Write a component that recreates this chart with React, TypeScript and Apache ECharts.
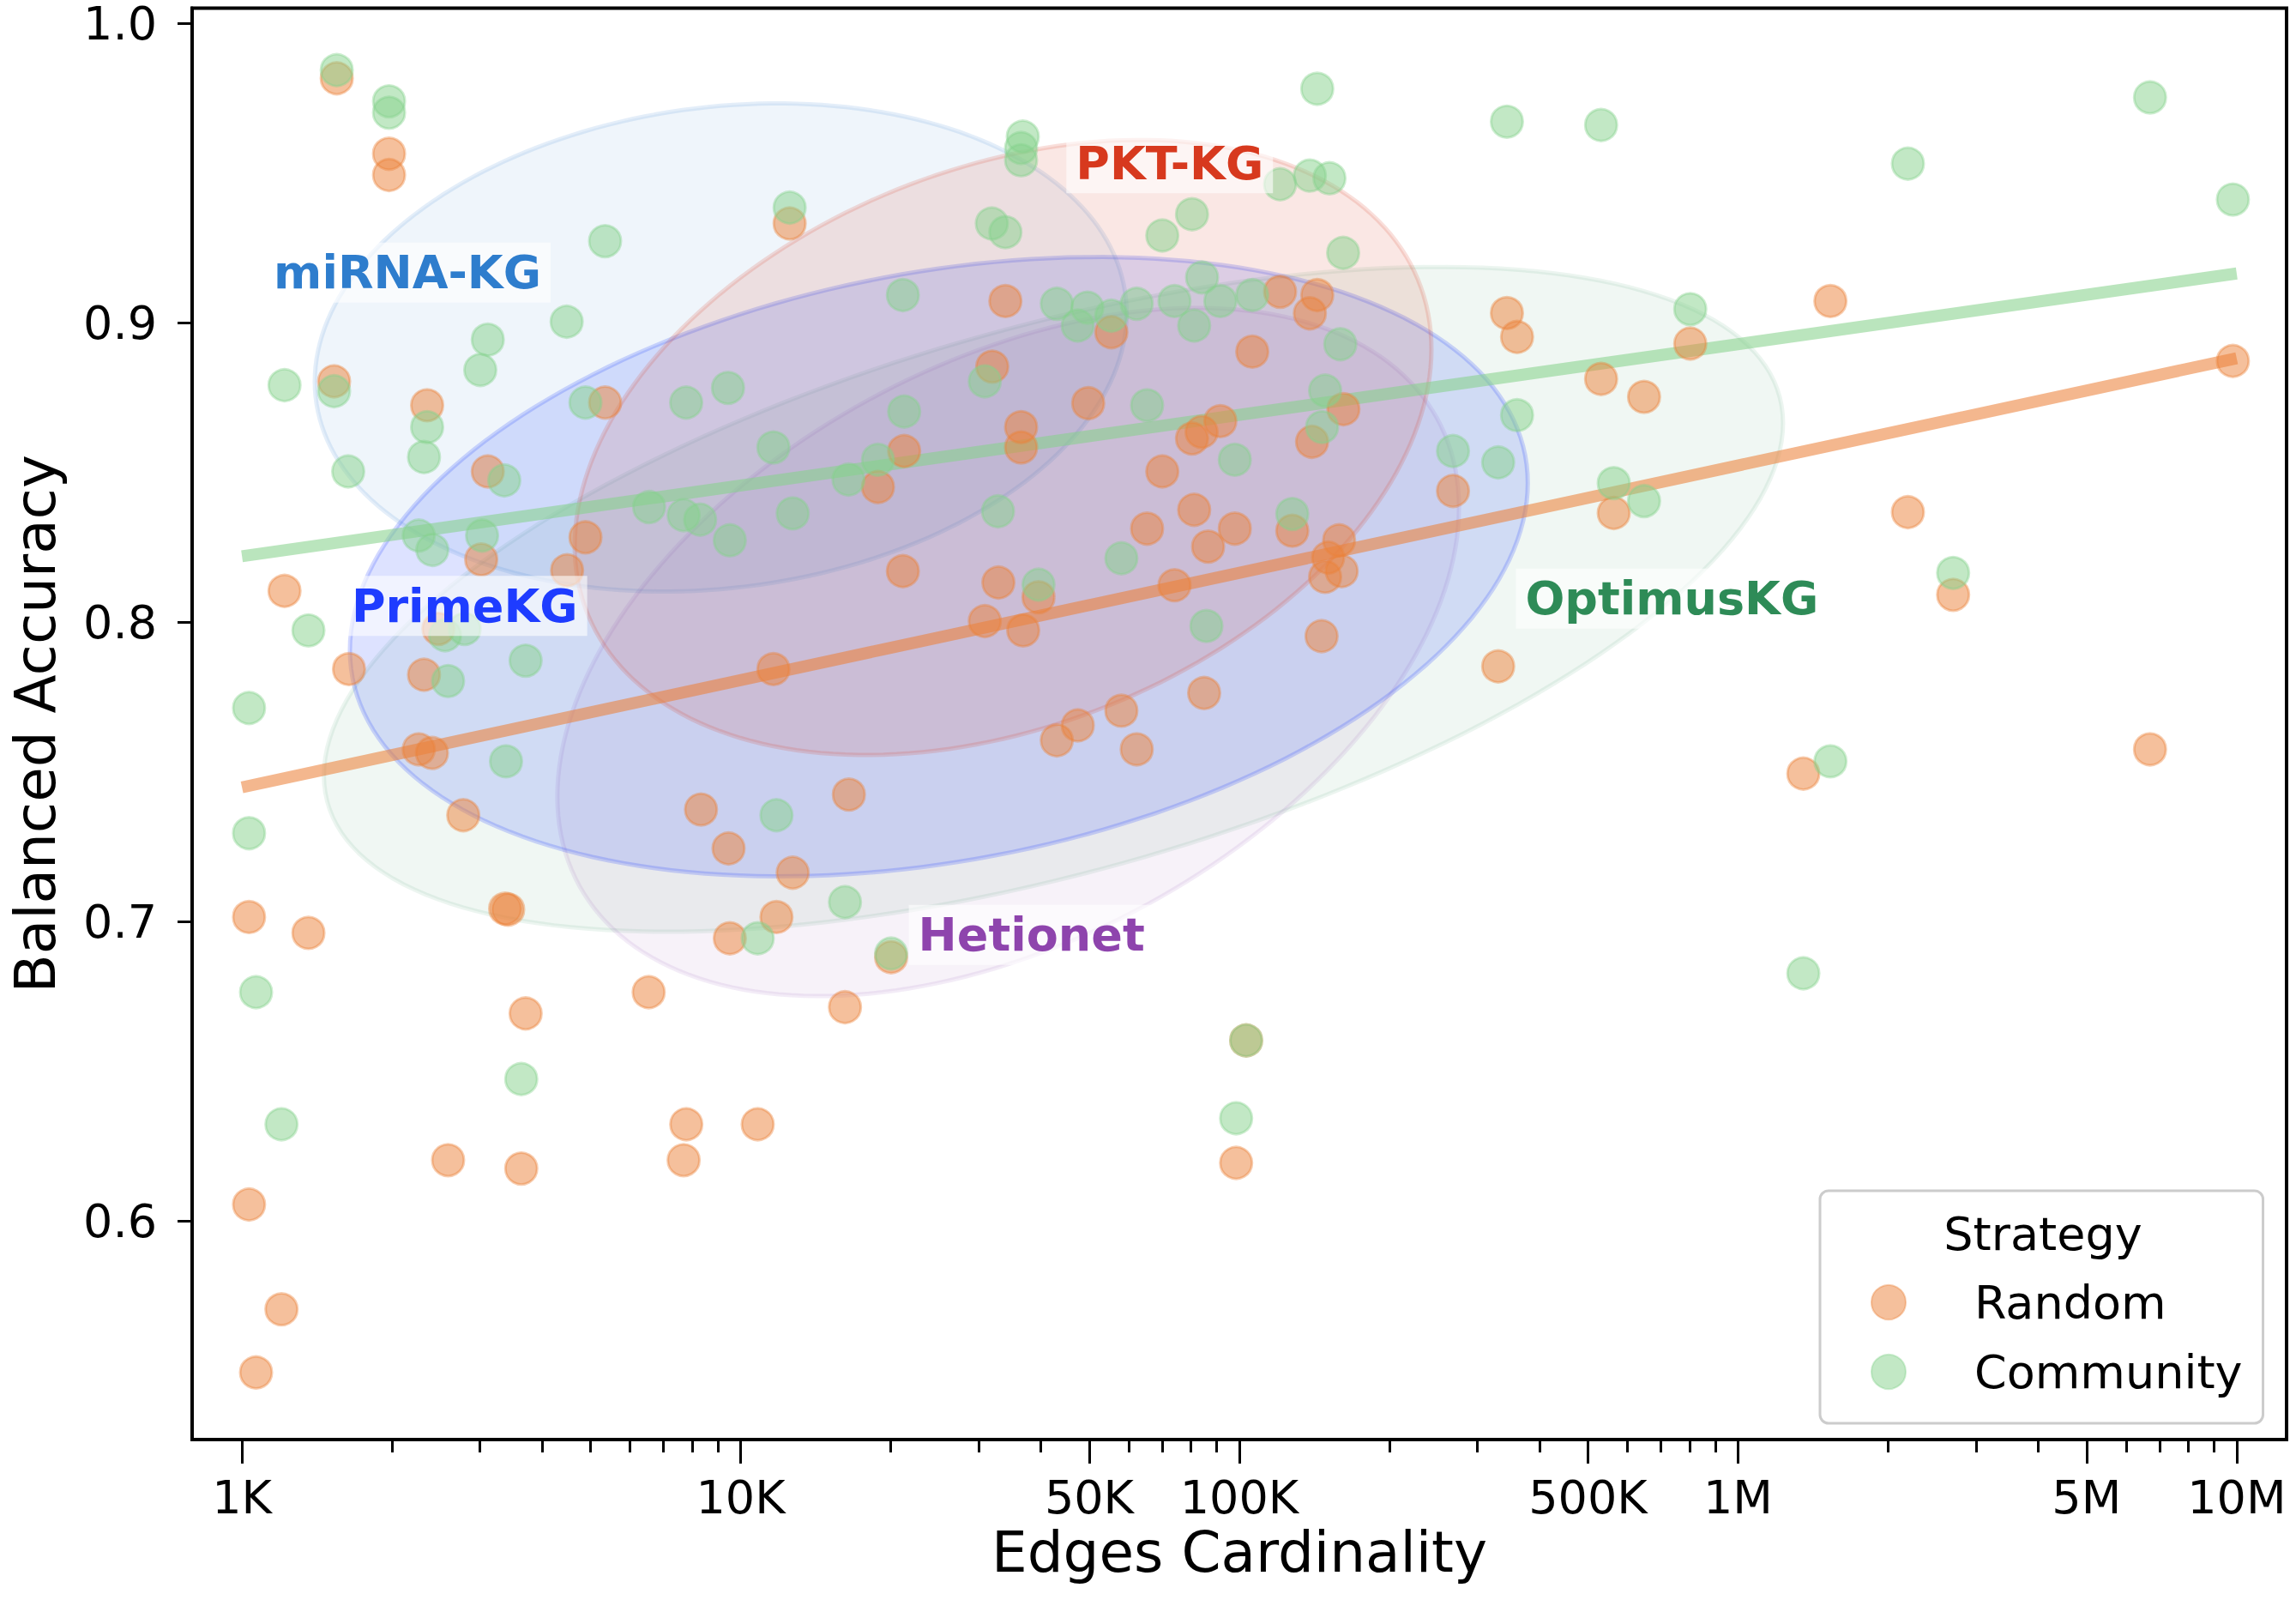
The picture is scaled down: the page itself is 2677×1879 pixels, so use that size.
import React, { useEffect, useRef } from "react";
import * as echarts from "echarts";

// Random strategy runs: edge count of the sampled graph and its balanced accuracy
const randomEdges = [
  1549, 1972, 1972, 1530, 2351, 5347, 3111, 4884, 3018, 4487, 1217, 1639, 2317, 2477, 2262, 2404,
  2778, 1033, 1359, 3371, 3418, 3705, 2590, 3631, 7779, 7685, 6539, 1033, 1200, 1067, 8326, 9456,
  9511, 11797, 12716, 10818, 16482, 16188, 12538, 11632, 18852, 21274, 21148, 30874, 32871, 36862,
  39565, 31954, 33950, 36500, 36500, 43053, 47426, 57997, 62260, 49761, 55383, 65313, 70067, 74131,
  80372, 84006, 91600, 81170, 86560, 97930, 85000, 98520, 103200, 106150, 120700, 143300, 138500,
  139900, 127700, 158500, 148600, 160400, 150700, 146200, 161700, 268200, 330400, 344000, 360500,
  531400, 563400, 648000, 802100, 1352000, 1532000, 2191000, 2700000, 6702000, 9825000, 20030,
];
const randomAccuracy = [
  0.9816, 0.9564, 0.9493, 0.8804, 0.8724, 0.8733, 0.8503, 0.8283, 0.8209, 0.8173, 0.8104, 0.7843,
  0.7824, 0.7977, 0.7575, 0.7563, 0.7355, 0.7015, 0.6962, 0.7043, 0.704, 0.6693, 0.6203, 0.6175,
  0.6323, 0.6203, 0.6764, 0.6055, 0.5705, 0.5494, 0.7374, 0.7244, 0.6944, 0.7015, 0.7163, 0.6323,
  0.7424, 0.6714, 0.9331, 0.7843, 0.8451, 0.8571, 0.817, 0.8003, 0.8132, 0.7972, 0.8083, 0.8853,
  0.9072, 0.8651, 0.8583, 0.7605, 0.7655, 0.7704, 0.7575, 0.8731, 0.8968, 0.8312, 0.8503, 0.8123,
  0.8613, 0.8635, 0.8671, 0.8375, 0.8252, 0.8312, 0.7763, 0.6194, 0.6603, 0.8903, 0.9103, 0.9092,
  0.9031, 0.8602, 0.8305, 0.8273, 0.8151, 0.817, 0.8215, 0.7953, 0.8711, 0.8438, 0.7852, 0.9032,
  0.8952, 0.8812, 0.8364, 0.8752, 0.893, 0.7494, 0.9072, 0.8367, 0.8091, 0.7575, 0.8872, 0.6881,
];

// Community strategy runs
const communityEdges = [
  1549, 1972, 1972, 1217, 1530, 2351, 2317, 1633, 3111, 3005, 4478, 5347, 3357, 4884, 2262, 2408,
  3030, 6552, 7685, 8294, 9511, 12716, 7775, 9432, 11632, 16450, 12538, 1359, 1033, 2590, 3705, 2554,
  2795, 3384, 1033, 11797, 16188, 10818, 1067, 3631, 1200, 20030, 143300, 344000, 36790, 36500,
  36500, 120700, 138500, 151600, 80372, 70067, 31890, 33950, 161500, 21148, 43053, 49570, 55383,
  47410, 62260, 74131, 84180, 91600, 106150, 81170, 159400, 30874, 21274, 65313, 148600, 146500,
  97930, 18852, 268200, 330400, 360500, 32810, 127700, 57997, 39565, 85900, 531400, 2191000,
  6702000, 9825000, 802100, 563400, 648000, 2700000, 1532000, 1352000, 103200, 98520,
];
const communityAccuracy = [
  0.9843, 0.9739, 0.9701, 0.8791, 0.8771, 0.8651, 0.8551, 0.8503, 0.8943, 0.8842, 0.9003, 0.9272,
  0.8473, 0.8733, 0.8289, 0.8241, 0.8289, 0.8384, 0.8357, 0.8342, 0.8273, 0.8363, 0.8733, 0.8782,
  0.8583, 0.8476, 0.9384, 0.7972, 0.7713, 0.7803, 0.7871, 0.7956, 0.7977, 0.7535, 0.7295, 0.7355,
  0.7065, 0.6944, 0.6764, 0.6474, 0.6323, 0.6893, 0.9781, 0.9671, 0.9621, 0.9583, 0.9542, 0.9462,
  0.9491, 0.9482, 0.9362, 0.9291, 0.9331, 0.9302, 0.9233, 0.9092, 0.9063, 0.905, 0.9023, 0.899,
  0.9063, 0.9072, 0.9151, 0.9072, 0.9092, 0.899, 0.8928, 0.8804, 0.8703, 0.8724, 0.8773, 0.8651,
  0.8542, 0.8542, 0.8571, 0.8533, 0.8691, 0.837, 0.8361, 0.8213, 0.8125, 0.7987, 0.966, 0.9531,
  0.9752, 0.9411, 0.9045, 0.8464, 0.8404, 0.8164, 0.7535, 0.6827, 0.6603, 0.6343,
];

// Linear fits of accuracy against log10(edges), evaluated at both ends of the range
const fitEdges = [1e3, 1e7];
const randomFit = [0.7448, 0.8881];
const communityFit = [0.822, 0.9164];

// Confidence regions of each knowledge graph (log10 edges vs accuracy)
const kgNames = ["OptimusKG", "Hetionet", "PrimeKG", "miRNA-KG", "PKT-KG"];
const kgCenterEdges = [42390, 34390, 24970, 9120, 33590];
const kgCenterAccuracy = [0.8076, 0.79, 0.8185, 0.8917, 0.8583];
const kgSpreadDecades = [1.463, 0.904, 1.181, 0.814, 0.859];
const kgSpreadAccuracy = [0.111, 0.1149, 0.1034, 0.0815, 0.1027];
const kgCorrelation = [0.53, 0.42, 0.27, 0.14, 0.32];
const kgLabelEdges = [736900, 38300, 2796, 2147, 72490];
const kgLabelAccuracy = [0.8078, 0.6955, 0.8054, 0.9167, 0.9532];

// Axis ticks
const majorTickEdges = [1e3, 1e4, 5e4, 1e5, 5e5, 1e6, 5e6, 1e7];
const majorTickLabels = ["1K", "10K", "50K", "100K", "500K", "1M", "5M", "10M"];
const minorTickEdges = [
  2e3, 3e3, 4e3, 5e3, 6e3, 7e3, 8e3, 9e3,
  2e4, 3e4, 4e4, 6e4, 7e4, 8e4, 9e4,
  2e5, 3e5, 4e5, 6e5, 7e5, 8e5, 9e5,
  2e6, 3e6, 4e6, 6e6, 7e6, 8e6, 9e6,
];
const accuracyTicks = [0.6, 0.7, 0.8, 0.9, 1.0];

const FONT = "DejaVu Sans";

const kgStyle: Record<string, { base: number[]; fill: number; stroke: number; text: string }> = {
  "miRNA-KG": { base: [46, 125, 205], fill: 0.08, stroke: 0.13, text: "#2E7DCD" },
  "PKT-KG": { base: [215, 57, 30], fill: 0.12, stroke: 0.16, text: "#D7391E" },
  PrimeKG: { base: [30, 60, 255], fill: 0.15, stroke: 0.2, text: "#1E3CFF" },
  Hetionet: { base: [142, 68, 173], fill: 0.07, stroke: 0.1, text: "#8E44AD" },
  OptimusKG: { base: [46, 139, 87], fill: 0.07, stroke: 0.09, text: "#2E8B57" },
};

const rgba = (c: number[], a: number) => `rgba(${c[0]},${c[1]},${c[2]},${a})`;
const ORANGE = [235, 129, 57];
const GREEN = [133, 209, 139];

export default function App() {
  const ref = useRef<HTMLDivElement>(null);

  useEffect(() => {
    if (!ref.current) return;
    const chart = echarts.init(ref.current, undefined, { renderer: "svg" });

    const log = Math.log10;
    const majorLogs = majorTickEdges.map(log);
    const minorLogs = minorTickEdges.map(log);
    const xMin = 2.9;
    const xMax = 7.1;

    const tickLabel = (v: number) => {
      const i = majorLogs.findIndex((m) => Math.abs(m - v) < 1e-6);
      return i >= 0 ? majorTickLabels[i] : "";
    };

    const ellipseSeries = {
      type: "custom",
      coordinateSystem: "cartesian2d",
      xAxisIndex: 0,
      yAxisIndex: 0,
      silent: true,
      z: 1,
      data: kgNames.map((_, i) => [log(kgCenterEdges[i]), kgCenterAccuracy[i]]),
      renderItem: (params: any, api: any) => {
        const i = params.dataIndex;
        const cx = api.value(0);
        const cy = api.value(1);
        const sx = kgSpreadDecades[i];
        const sy = kgSpreadAccuracy[i];
        const r = kgCorrelation[i];
        const q = Math.sqrt(1 - r * r);
        const pts: number[][] = [];
        const n = 200;
        for (let k = 0; k < n; k++) {
          const t = (2 * Math.PI * k) / n;
          const x = cx + sx * Math.cos(t);
          const y = cy + sy * (r * Math.cos(t) + q * Math.sin(t));
          pts.push(api.coord([x, y]));
        }
        const st = kgStyle[kgNames[i]];
        return {
          type: "polygon",
          shape: { points: pts },
          style: {
            fill: rgba(st.base, st.fill),
            stroke: rgba(st.base, st.stroke),
            lineWidth: 5,
          },
        };
      },
    };

    const fitLine = (fit: number[], color: number[]) => ({
      type: "line",
      silent: true,
      z: 2,
      symbol: "none",
      showSymbol: false,
      data: fitEdges.map((e, i) => [log(e), fit[i]]),
      lineStyle: { width: 14, color: rgba(color, 0.57), cap: "butt", opacity: 1 },
    });

    const scatter = (name: string, edges: number[], acc: number[], color: number[]) => ({
      name,
      type: "scatter",
      z: 3,
      symbol: "circle",
      symbolSize: 37,
      data: edges.map((e, i) => [log(e), acc[i]]),
      itemStyle: {
        color: rgba(color, 0.5),
        borderColor: rgba(color, 0.4),
        borderWidth: 3,
        opacity: 1,
      },
    });

    const labelSeries = {
      type: "scatter",
      silent: true,
      z: 10,
      symbolSize: 1,
      itemStyle: { color: "transparent", opacity: 1 },
      data: kgNames.map((name, i) => ({
        name,
        value: [log(kgLabelEdges[i]), kgLabelAccuracy[i]],
        label: { color: kgStyle[name].text },
      })),
      label: {
        show: true,
        position: "inside",
        formatter: "{b}",
        fontFamily: FONT,
        fontSize: 54,
        fontWeight: "bold",
        opacity: 1,
        backgroundColor: "rgba(255,255,255,0.6)",
        padding: [8, 11],
      },
    };

    chart.setOption({
      animation: false,
      backgroundColor: "#ffffff",
      grid: {
        left: 218,
        top: 8,
        right: 11,
        bottom: 201,
        show: true,
        borderColor: "#000",
        borderWidth: 4,
        backgroundColor: "transparent",
      },
      xAxis: [
        {
          type: "value",
          min: xMin,
          max: xMax,
          position: "bottom",
          name: "Edges Cardinality",
          nameLocation: "middle",
          nameGap: 90,
          nameTextStyle: { fontFamily: FONT, fontSize: 66, color: "#000" },
          axisLine: { show: true, onZero: false, lineStyle: { color: "#000", width: 4 } },
          axisTick: {
            show: true,
            customValues: majorLogs,
            length: 28,
            lineStyle: { color: "#000", width: 3 },
          },
          axisLabel: {
            show: true,
            customValues: majorLogs,
            formatter: tickLabel,
            fontFamily: FONT,
            fontSize: 54,
            color: "#000",
            margin: 40,
          },
          splitLine: { show: false },
        },
        {
          type: "value",
          min: xMin,
          max: xMax,
          position: "bottom",
          axisLine: { show: false, onZero: false },
          axisTick: {
            show: true,
            customValues: minorLogs,
            length: 15,
            lineStyle: { color: "#000", width: 3 },
          },
          axisLabel: { show: false },
          splitLine: { show: false },
        },
      ],
      yAxis: {
        type: "value",
        min: 0.527,
        max: 1.005,
        name: "Balanced Accuracy",
        nameLocation: "middle",
        nameRotate: 90,
        nameGap: 150,
        nameTextStyle: { fontFamily: FONT, fontSize: 66, color: "#000" },
        axisLine: { show: true, onZero: false, lineStyle: { color: "#000", width: 4 } },
        axisTick: {
          show: true,
          customValues: accuracyTicks,
          length: 17,
          lineStyle: { color: "#000", width: 3 },
        },
        axisLabel: {
          show: true,
          customValues: accuracyTicks,
          formatter: (v: number) => v.toFixed(1),
          fontFamily: FONT,
          fontSize: 54,
          lineHeight: 42,
          color: "#000",
          margin: 41,
        },
        splitLine: { show: false },
      },
      legend: {
        data: ["Random", "Community"],
        orient: "vertical",
        left: 2122,
        top: 1388,
        icon: "circle",
        itemWidth: 40,
        itemHeight: 40,
        itemGap: 27,
        padding: [103, 24, 33, 59],
        backgroundColor: "rgba(255,255,255,0.8)",
        borderColor: "#cccccc",
        borderWidth: 3,
        borderRadius: 10,
        selectedMode: false,
        textStyle: { fontFamily: FONT, fontSize: 54, color: "#000", padding: [0, 0, 0, 75] },
      },
      graphic: [
        {
          type: "text",
          z: 100,
          x: 2382,
          y: 1438,
          style: {
            text: "Strategy",
            fontFamily: FONT,
            fontSize: 54,
            fill: "#000",
            textAlign: "center",
            textVerticalAlign: "middle",
          },
        },
      ],
      series: [
        ellipseSeries,
        fitLine(randomFit, ORANGE),
        fitLine(communityFit, GREEN),
        scatter("Random", randomEdges, randomAccuracy, ORANGE),
        scatter("Community", communityEdges, communityAccuracy, GREEN),
        labelSeries,
      ],
    });

    return () => chart.dispose();
  }, []);

  return (
    <div
      ref={ref}
      style={{ position: "absolute", left: 0, top: 0, width: 2677, height: 1879, background: "#fff" }}
    />
  );
}
